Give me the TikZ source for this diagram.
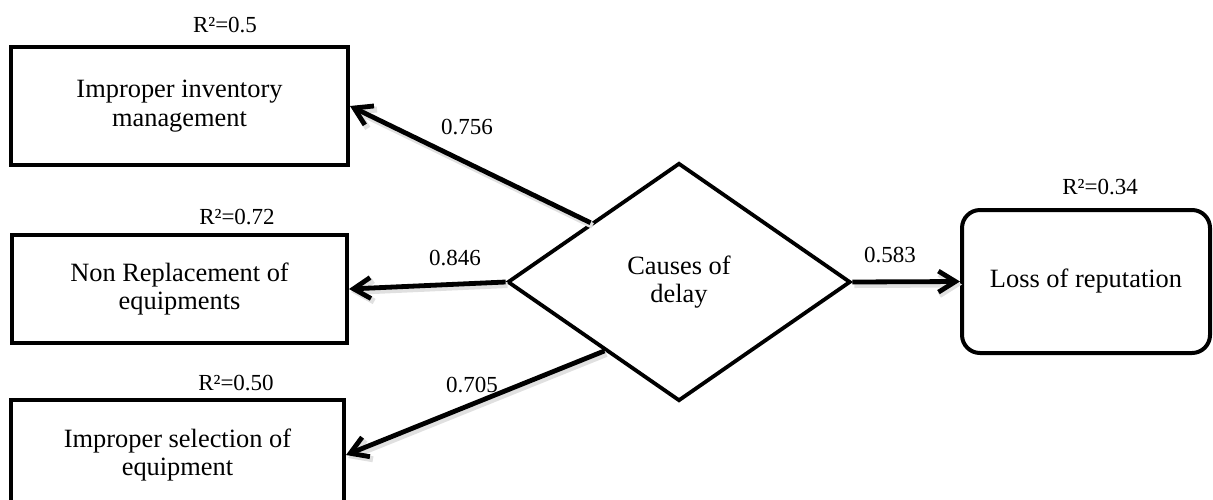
\documentclass[tikz,border=0pt]{standalone}
\usepackage{fontspec}
\setmainfont{Liberation Serif}
\usetikzlibrary{arrows.meta,shapes.geometric,calc}
\begin{document}
\begin{tikzpicture}[x=0.5pt,y=-0.5pt,
  box/.style={draw, line width=2pt, inner sep=0pt, align=center,
    font=\fontsize{13.2}{14.2}\selectfont},
  lbl/.style={inner sep=0pt, font=\fontsize{11.5}{13}\selectfont},
  arr/.style={line width=2.4pt, -{Straight Barb[length=8.5pt,width=10.5pt]},
    preaction={draw=black!12, line width=3pt,
      transform canvas={shift={(1pt,-1.5pt)}}}}]
\useasboundingbox (0,0) rectangle (1213,499);
\node[box, minimum width=168.5pt, minimum height=59pt] (b1) at (179.5,106)
  {Improper inventory\\management};
\node[box, minimum width=167.5pt, minimum height=54pt] (b2) at (179.5,289)
  {Non Replacement of\\equipments};
\node[box, minimum width=166.5pt, minimum height=55pt] (b3) at (177.5,455)
  {Improper selection of\\equipment};
\node[box, rounded corners=9pt, minimum width=124pt, minimum height=71.5pt] (loss) at (1086,281.5)
  {Loss of reputation};
\node[diamond, draw, line width=1.9pt, inner sep=0pt, align=center,
  minimum width=171.5pt, minimum height=119pt,
  font=\fontsize{13.2}{14.2}\selectfont] (cd) at (679,282) {Causes of\\delay};
\node[lbl] (r1) at (225,25) {R²=0.5};
\node[lbl] (r2) at (237,217) {R²=0.72};
\node[lbl] (r3) at (236,383) {R²=0.50};
\node[lbl] (r4) at (1100,187) {R²=0.34};
\node[lbl] (l1) at (467,127) {0.756};
\node[lbl] (l2) at (455,258) {0.846};
\node[lbl] (l3) at (472,385) {0.705};
\node[lbl] (l4) at (890,255) {0.583};
\coordinate (s1) at ($(cd.west)!0.49!(cd.north)$);
\coordinate (s3) at ($(cd.west)!0.57!(cd.south)$);
\draw[arr] (s1) -- (b1.east);
\draw[arr] (cd.west) -- (b2.east);
\draw[arr] (s3) -- (b3.east);
\draw[arr] (cd.east) -- (loss.west);
\end{tikzpicture}
\end{document}
